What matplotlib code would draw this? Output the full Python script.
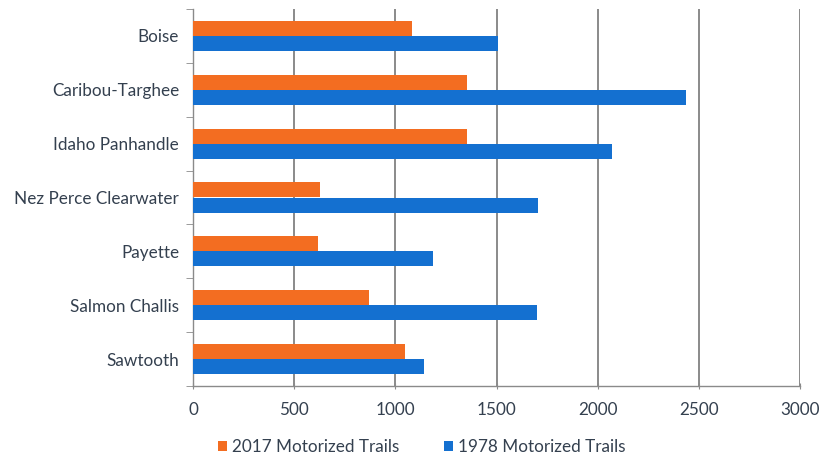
import matplotlib
matplotlib.use("Agg")
import matplotlib.pyplot as plt
import numpy as np

categories = ["Boise", "Caribou-Targhee", "Idaho Panhandle", "Nez Perce Clearwater",
              "Payette", "Salmon Challis", "Sawtooth"]
trails_2017 = [1080, 1355, 1355, 630, 620, 870, 1050]
trails_1978 = [1505, 2435, 2070, 1705, 1185, 1700, 1140]
series_names = ["2017 Motorized Trails", "1978 Motorized Trails"]
xticks = [0, 500, 1000, 1500, 2000, 2500, 3000]

plt.rcParams['font.family'] = ['Lato', 'DejaVu Sans']
text_color = "#34404f"
orange = "#F36D21"
blue = "#1470D0"
grid_color = "#8a8a8a"
fs = 12.3

fig = plt.figure(figsize=(8.19, 4.59), dpi=100)
ax = fig.add_axes([193/819, 1-386/459, (800-193)/819, (386-9)/459])

n = len(categories)
y = np.arange(n)
h = 0.28
ax.barh(y - h/2, trails_2017, height=h, color=orange, label=series_names[0], zorder=3)
ax.barh(y + h/2, trails_1978, height=h, color=blue, label=series_names[1], zorder=3)

ax.set_ylim(n - 0.5, -0.5)
ax.set_xlim(0, 3000)
ax.set_xticks(xticks)
ax.set_xticklabels([str(t) for t in xticks])
ax.set_yticks(y)
ax.set_yticklabels(categories)
ax.set_yticks(np.arange(n + 1) - 0.5, minor=True)

ax.grid(axis='x', color=grid_color, linewidth=1.4, zorder=0)
for s in ['top', 'right']:
    ax.spines[s].set_visible(False)
for s in ['left', 'bottom']:
    ax.spines[s].set_color(grid_color)
    ax.spines[s].set_linewidth(1.0)

ax.tick_params(axis='y', which='major', length=0, pad=10, labelsize=fs, labelcolor=text_color)
ax.tick_params(axis='y', which='minor', length=5, color=grid_color, direction='out')
ax.tick_params(axis='x', which='major', length=5, color=grid_color, direction='inout', pad=9,
               labelsize=fs, labelcolor=text_color)

leg = fig.legend(loc='center', bbox_to_anchor=(0.515, 1-447/459), ncol=2, frameon=False,
                 fontsize=fs, handlelength=0.55, handleheight=0.55, handletextpad=0.3,
                 columnspacing=2.6)
for t in leg.get_texts():
    t.set_color(text_color)

fig.savefig("out.png", dpi=100)
